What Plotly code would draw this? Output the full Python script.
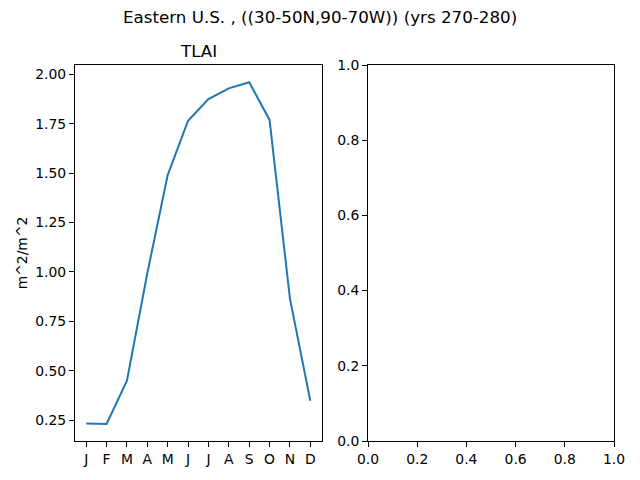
import plotly.graph_objects as go
from plotly.subplots import make_subplots

months = ["J", "F", "M", "A", "M", "J", "J", "A", "S", "O", "N", "D"]
month_idx = list(range(12))
tlai = [0.233, 0.230, 0.449, 0.993, 1.490, 1.765, 1.874, 1.929, 1.960, 1.769, 0.866, 0.348]

title_text = "Eastern U.S. , ((30-50N,90-70W)) (yrs 270-280)"
font = "DejaVu Sans"
W, H = 640, 480
OFF = 8  # page body margin in the browser


def px_x(p):
    return (p - OFF) / W


def px_y(p):
    return 1 - (p - OFF) / H


fig = make_subplots(rows=1, cols=2)

fig.add_trace(go.Scatter(x=month_idx, y=tlai, mode="lines",
                         line=dict(color="#1f77b4", width=2),
                         showlegend=False), row=1, col=1)
# empty panel on the right, just the axes
fig.add_trace(go.Scatter(x=[None], y=[None], mode="lines",
                         showlegend=False, hoverinfo="skip"), row=1, col=2)

axis_style = dict(showline=True, linecolor="black", linewidth=1, mirror=True,
                  ticks="outside", ticklen=5, tickcolor="black", tickwidth=1,
                  showgrid=False, zeroline=False, automargin=False,
                  tickfont=dict(family=font, size=13.9, color="black"))

fig.update_layout(
    width=W, height=H,
    margin=dict(l=0, r=0, t=0, b=0),
    paper_bgcolor="white", plot_bgcolor="white",
    font=dict(family=font, color="black"),
    xaxis=dict(domain=[px_x(75), px_x(321.5)], range=[-0.55, 11.55],
               tickmode="array", tickvals=month_idx, ticktext=months, **axis_style),
    yaxis=dict(domain=[px_y(441), px_y(65)], range=[0.144, 2.047],
               tickmode="array", tickvals=[0.25, 0.5, 0.75, 1.0, 1.25, 1.5, 1.75, 2.0],
               tickformat=".2f",
               title=dict(text="m^2/m^2", font=dict(family=font, size=13.9), standoff=4),
               **axis_style),
    xaxis2=dict(domain=[px_x(368), px_x(614)], range=[0, 1], dtick=0.2,
                tickformat=".1f", **axis_style),
    yaxis2=dict(domain=[px_y(441), px_y(65)], range=[0, 1], dtick=0.2,
                tickformat=".1f", **axis_style),
    annotations=[
        dict(text=title_text, x=px_x(320), y=px_y(17), xref="paper", yref="paper",
             showarrow=False, font=dict(family=font, size=16.7, color="black"),
             xanchor="center", yanchor="middle"),
        dict(text="TLAI", x=px_x(198), y=px_y(51), xref="paper", yref="paper",
             showarrow=False, font=dict(family=font, size=16.7, color="black"),
             xanchor="center", yanchor="middle"),
    ],
)

fig.write_html("out.html")
